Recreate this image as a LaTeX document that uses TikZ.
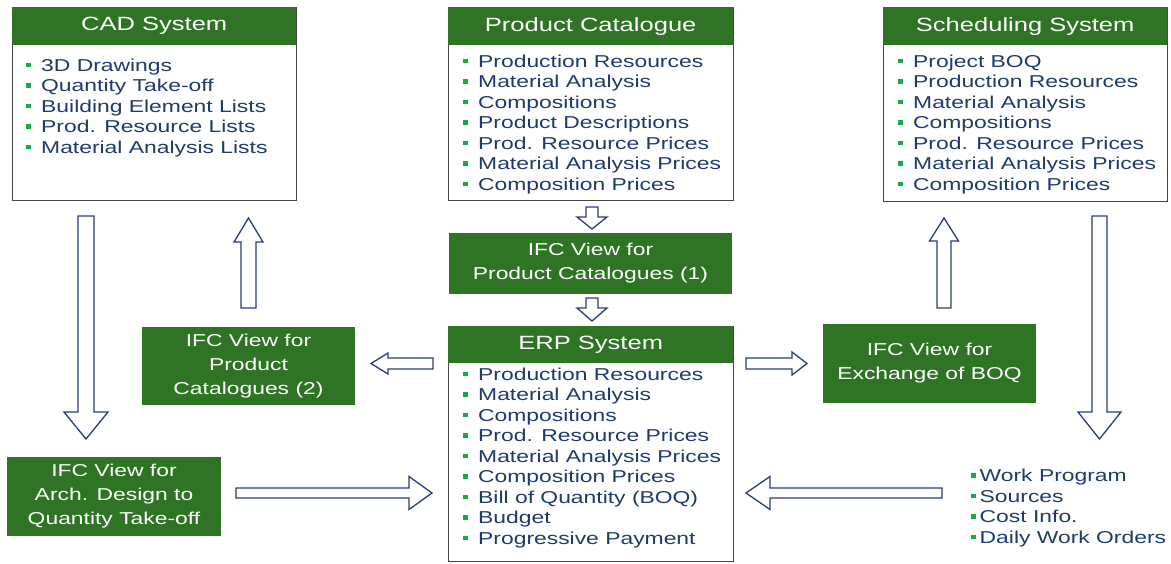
\documentclass[tikz,border=0pt]{standalone}
\usepackage{fontspec}
\setmainfont{Liberation Sans}[FakeStretch=1.33]
\definecolor{hdrgreen}{RGB}{46,116,36}
\definecolor{itemblue}{RGB}{30,58,110}
\definecolor{bulletgreen}{RGB}{20,172,70}
\definecolor{arrownavy}{RGB}{40,60,130}
\definecolor{boxgray}{RGB}{70,70,70}
\newcommand\bl{{\color{bulletgreen}\rule[3.9pt]{4.5pt}{4.5pt}}\hspace{10.5pt}}
\newcommand\bls{{\color{bulletgreen}\rule[3.9pt]{4.5pt}{4.5pt}}\hspace{4pt}}
% vertical block arrow: x, ytail, yheadstart, ytip, shaft half, head half
\newcommand\varrow[6]{\draw[blockarrow] ({#1-#5},#2) -- ({#1-#5},#3) -- ({#1-#6},#3) -- (#1,#4) -- ({#1+#6},#3) -- ({#1+#5},#3) -- ({#1+#5},#2) -- cycle;}
% horizontal block arrow: y, xtail, xheadstart, xtip, shaft half, head half
\newcommand\harrow[6]{\draw[blockarrow] (#2,{#1-#5}) -- (#3,{#1-#5}) -- (#3,{#1-#6}) -- (#4,#1) -- (#3,{#1+#6}) -- (#3,{#1+#5}) -- (#2,{#1+#5}) -- cycle;}
\begin{document}
\begin{tikzpicture}[x=1pt,y=-1pt,
  sysbox/.style={draw=boxgray, line width=1.2pt, fill=white, inner sep=0pt, anchor=north west},
  hdr/.style={fill=hdrgreen, text=white, inner sep=0pt, anchor=north west, minimum height=38pt,
    font=\fontsize{19.2}{23}\selectfont},
  items/.style={text=itemblue, inner sep=0pt, anchor=north west, align=left,
    font=\fontsize{17.2}{20.5}\selectfont},
  ifc/.style={fill=hdrgreen, text=white, inner sep=0pt, align=center,
    font=\fontsize{17.2}{24}\selectfont},
  blockarrow/.style={draw=arrownavy, fill=white, line width=1.3pt, line join=miter}]
\useasboundingbox (0,0) rectangle (1171,563);

% CAD System
\node[sysbox, minimum width=284pt, minimum height=193pt] (cad) at (12,7) {};
\node[hdr, minimum width=284pt] (cadh) at (12,7) {CAD System};
\node[items] (cadl) at (26,56.6) {\strut\bl 3D Drawings\\ \bl Quantity Take-off\\ \bl Building Element Lists\\ \bl Prod. Resource Lists\\ \bl Material Analysis Lists};

% Product Catalogue
\node[sysbox, minimum width=285pt, minimum height=193pt] (pc) at (448,7) {};
\node[hdr, minimum width=285pt] (pch) at (448,7) {Product Catalogue};
\node[items] (pcl) at (463,52.6) {\strut\bl Production Resources\\ \bl Material Analysis\\ \bl Compositions\\ \bl Product Descriptions\\ \bl Prod. Resource Prices\\ \bl Material Analysis Prices\\ \bl Composition Prices};

% Scheduling System
\node[sysbox, minimum width=284pt, minimum height=194pt] (sch) at (883,7) {};
\node[hdr, minimum width=284pt] (schh) at (883,7) {Scheduling System};
\node[items] (schl) at (898,52.6) {\strut\bl Project BOQ\\ \bl Production Resources\\ \bl Material Analysis\\ \bl Compositions\\ \bl Prod. Resource Prices\\ \bl Material Analysis Prices\\ \bl Composition Prices};

% ERP System
\node[sysbox, minimum width=285pt, minimum height=235pt] (erp) at (448,326) {};
\node[hdr, minimum width=285pt, minimum height=37pt] (erph) at (448,326) {ERP System};
\node[items] (erpl) at (463,365.6) {\strut\bl Production Resources\\ \bl Material Analysis\\ \bl Compositions\\ \bl Prod. Resource Prices\\ \bl Material Analysis Prices\\ \bl Composition Prices\\ \bl Bill of Quantity (BOQ)\\ \bl Budget\\ \bl Progressive Payment};

% bottom-right list
\node[items] (wp) at (971,467.3) {\strut\bls Work Program\\ \bls Sources\\ \bls Cost Info.\\ \bls Daily Work Orders};

% IFC views
\node[ifc, minimum width=283pt, minimum height=61pt] (ifc1) at (590.5,263.5) {IFC View for\\Product Catalogues (1)};
\node[ifc, minimum width=213pt, minimum height=78pt] (ifc2) at (248.5,366) {IFC View for\\Product\\Catalogues (2)};
\node[ifc, minimum width=214pt, minimum height=79pt] (ifca) at (114,496.5) {IFC View for\\Arch. Design to\\Quantity Take-off};
\node[ifc, minimum width=213pt, minimum height=79pt] (ifcb) at (929.5,363.5) {IFC View for\\Exchange of BOQ};

% block arrows
\varrow{86}{216}{412}{439}{8}{22}
\varrow{248.5}{308}{242}{218}{7.5}{14.5}
\varrow{592}{207}{217}{229}{6}{15}
\varrow{592}{298}{308}{321}{6}{15}
\varrow{944}{308}{241}{218}{7}{14.5}
\varrow{1099.5}{216}{412}{439}{7.5}{21.5}
\harrow{363.5}{433}{388}{371}{5.5}{10.5}
\harrow{493}{236}{409}{432}{5}{16.5}
\harrow{363.5}{746}{792}{807}{5.5}{11.5}
\harrow{493}{942}{770}{746}{5}{16.5}
\end{tikzpicture}
\end{document}
